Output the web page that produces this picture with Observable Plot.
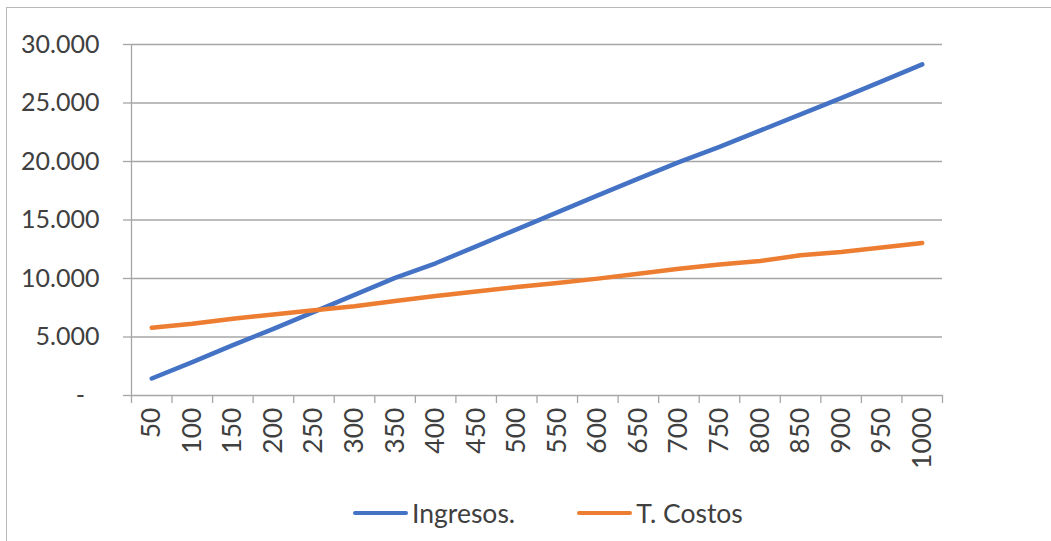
<!DOCTYPE html>
<html>
<head>
<meta charset="utf-8">
<script src="https://cdn.jsdelivr.net/npm/d3@7"></script>
<script src="https://cdn.jsdelivr.net/npm/@observablehq/plot@0.6"></script>
<style>
  html, body { margin: 0; padding: 0; background: #fff; overflow: hidden; width: 1051px; height: 541px; }
  #frame { position: absolute; left: 6px; top: 7px; width: 1100px; height: 600px; border: 1px solid #b8b8b8; box-sizing: border-box; }
  #chart { position: absolute; left: 0; top: 0; }
  #legend { position: absolute; left: 353px; top: 496px; font-family: Lato, sans-serif; font-size: 26.5px; color: #404040; display: flex; align-items: center; height: 34px; }
  .item { display: flex; align-items: center; }
  .sw { width: 55px; height: 4px; margin-right: 4px; border-radius: 2px; }
</style>
</head>
<body>
<div id="frame"></div>
<div id="chart"></div>
<div id="legend"></div>
<script>
const categories = ["50","100","150","200","250","300","350","400","450","500","550","600","650","700","750","800","850","900","950","1000"];
const ingresos = [1450, 2850, 4300, 5700, 7150, 8600, 10050, 11300, 12750, 14200, 15650, 17100, 18530, 19950, 21250, 22640, 24030, 25420, 26850, 28300];
const costos = [5790, 6130, 6560, 6930, 7280, 7620, 8070, 8500, 8880, 9270, 9610, 9990, 10410, 10840, 11190, 11500, 11980, 12270, 12640, 13040];
const seriesNames = ["Ingresos.", "T. Costos"];
const seriesColors = ["#4472C4", "#ED7D31"];
const yTicks = [0, 5000, 10000, 15000, 20000, 25000, 30000];

const gray = "#a6a6a6";
const idx = d3.range(categories.length);
const boundaries = d3.range(categories.length + 1).map(i => i - 0.5);
const data = idx.flatMap(i => [
  {i, v: ingresos[i], s: seriesNames[0]},
  {i, v: costos[i], s: seriesNames[1]}
]);
const fmt = v => v === 0 ? "-\u2007" : d3.format(",")(v).replace(/,/g, ".");

const chart = Plot.plot({
  width: 1051, height: 480,
  marginLeft: 131, marginRight: 109, marginTop: 44, marginBottom: 85,
  style: {fontFamily: "Lato, sans-serif", fontSize: "25px", color: "#404040", background: "transparent", overflow: "visible"},
  x: {type: "linear", domain: [-0.5, categories.length - 0.5]},
  y: {domain: [0, 30000]},
  color: {domain: seriesNames, range: seriesColors},
  marks: [
    Plot.gridY(yTicks, {stroke: gray, strokeOpacity: 1, strokeWidth: 1.3}),
    Plot.axisY(yTicks, {tickSize: 8, tickPadding: 24, stroke: gray, strokeOpacity: 1, strokeWidth: 1.3, tickFormat: fmt, fill: "#404040", fontSize: 25, label: null}),
    Plot.ruleX([-0.5], {y1: 0, y2: 30000, stroke: gray, strokeWidth: 1.3}),
    Plot.axisX(boundaries, {tickSize: 8, stroke: gray, strokeOpacity: 1, strokeWidth: 1.3, tickFormat: () => "", label: null}),
    Plot.axisX(idx, {tickSize: 0, tickPadding: 12, tickRotate: -90, tickFormat: i => categories[i], fill: "#404040", fontSize: 26.5, label: null}),
    Plot.line(data, {x: "i", y: "v", stroke: "s", z: "s", strokeWidth: 4.5, strokeLinecap: "round", strokeLinejoin: "round"})
  ]
});
document.getElementById("chart").appendChild(chart);

const legend = document.getElementById("legend");
seriesNames.forEach((name, k) => {
  const item = document.createElement("div");
  item.className = "item";
  if (k > 0) item.style.marginLeft = "62px";
  const sw = document.createElement("div");
  sw.className = "sw";
  sw.style.background = seriesColors[k];
  const t = document.createElement("span");
  t.textContent = name;
  item.appendChild(sw);
  item.appendChild(t);
  legend.appendChild(item);
});
</script>
</body>
</html>
